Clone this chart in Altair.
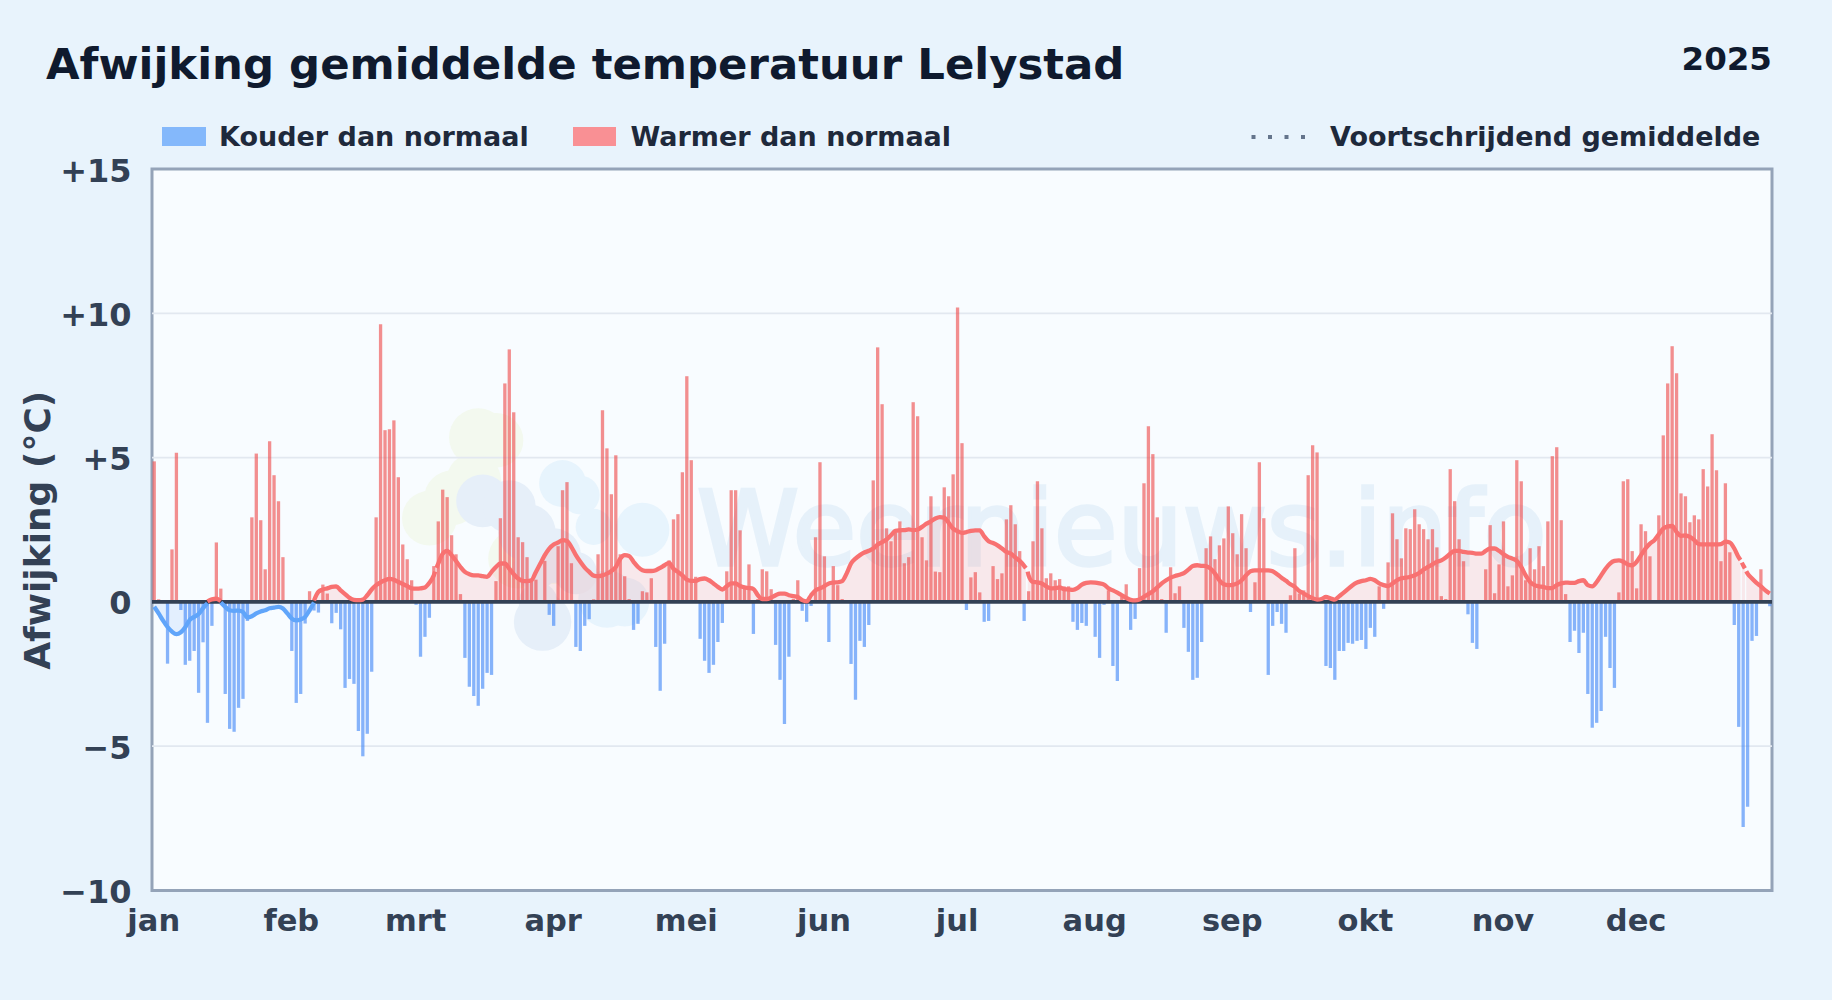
import altair as alt
import pandas as pd
from altair.utils.html import HTML_TEMPLATE

FONT = "DejaVu Sans"
PAGE_BG = "#e8f3fc"
PLOT_BG = "#f8fcff"
INK = "#0f1a2e"
SLATE = "#334155"
TEXT = "#1e293b"
RED = "#f87171"
BLUE = "#60a5fa"
BAR_RED = "#ef4444"
BAR_BLUE = "#3b82f6"

title = "Afwijking gemiddelde temperatuur Lelystad"
year = "2025"
y_title = "Afwijking (°C)"
month_days = [0, 31, 59, 90, 120, 151, 181, 212, 243, 273, 304, 334]
month_labels = ["jan", "feb", "mrt", "apr", "mei", "jun", "jul", "aug", "sep", "okt", "nov", "dec"]
y_ticks = [-10, -5, 0, 5, 10, 15]
grid_values = [-5, 5, 10]

# daily anomaly (one value per day of the year)
anomaly = [
    4.87, 0.09, 0, -2.14, 1.82, 5.17, -0.28, -2.18, -2.04, -1.70,
    -3.15, -1.4, -4.19, -0.83, 2.06, 0.46, -3.19, -4.4, -4.5, -3.67,
    -3.36, -0.66, 2.93, 5.14, 2.83, 1.13, 5.57, 4.39, 3.49, 1.55,
    0, -1.70, -3.5, -3.19, -0.75, 0.37, -0.3, -0.37, 0.6, 0.29,
    -0.74, -0.38, -0.95, -2.98, -2.67, -2.84, -4.47, -5.35, -4.57, -2.42,
    2.93, 9.62, 5.95, 5.98, 6.29, 4.32, 1.99, 1.48, 0.75, -0.1,
    -1.9, -1.21, -0.55, 1.24, 2.79, 3.89, 3.63, 2.31, 1.65, 0.27,
    -1.94, -2.94, -3.26, -3.6, -3.01, -2.46, -2.53, 0.72, 2.9, 7.57,
    8.75, 6.57, 2.24, 2.07, 1.55, 0.78, 0.77, 0, 1.42, -0.45,
    -0.83, 1.93, 3.87, 4.15, 1.34, -1.56, -1.70, -0.83, -0.6, 0.09,
    1.65, 6.64, 5.32, 3.73, 5.08, 1.65, 0.89, 0.1, -0.97, -0.76,
    0.37, 0.33, 0.82, -1.56, -3.08, -1.45, 1.44, 2.86, 3.04, 4.49,
    7.82, 4.91, 0.87, -1.28, -2.04, -2.46, -2.18, -1.39, -0.73, 1.06,
    3.87, 3.87, 2.48, 0.5, 1.3, -1.11, 0.1, 1.13, 1.06, 0.44,
    -1.49, -2.7, -4.23, -1.9, 0.1, 0.75, -0.31, -0.69, -0.14, 2.24,
    4.84, 1.58, -1.39, 1.24, 0.58, 0.1, 0, -2.15, -3.39, -1.35,
    -1.56, -0.8, 4.21, 8.82, 6.85, 2.55, 2.1, 2.4, 2.79, 1.34,
    1.55, 6.92, 6.43, 2.24, 1.44, 3.66, 1.05, 1.03, 3.97, 3.66,
    4.42, 10.2, 5.5, -0.28, 0.85, 1.03, 0.33, -0.69, -0.66, 1.24,
    0.79, 0.99, 2.86, 3.35, 2.69, 1.76, -0.66, 0.37, 2.1, 4.18,
    2.55, 0.82, 0.99, 0.75, 0.79, 0.54, 0.54, -0.69, -0.97, -0.73,
    -0.83, 0, -1.21, -1.94, -0.1, 0.4, -2.22, -2.74, 0.17, 0.61,
    -0.97, -0.59, 1.17, 4.11, 6.09, 5.12, 2.93, 0.1, -1.07, 1.2,
    0.3, 0.54, -0.9, -1.73, -2.7, -2.63, -1.39, 1.86, 2.27, 1.48,
    1.96, 2.2, 3.31, 2.38, 1.65, 3.04, 1.86, -0.35, 0.68, 4.84,
    2.9, -2.53, -0.83, -0.35, -0.76, -1.07, 0.23, 1.86, 0.29, 0.4,
    4.39, 5.43, 5.18, 0, -2.22, -2.29, -2.7, -1.7, -1.7, -1.42,
    -1.45, -1.35, -1.32, -1.63, -0.9, -1.21, 0.54, -0.24, 1.37, 3.07,
    2.17, 1.51, 2.55, 2.52, 3.21, 2.69, 2.52, 2.17, 2.52, 1.89,
    0.2, 0.1, 4.6, 3.49, 2.17, 1.41, -0.43, -1.42, -1.63, 0,
    1.13, 2.66, 0.3, 1.3, 2.79, 0.54, 0.92, 4.91, 4.18, 0.75,
    1.86, 1.13, 1.93, 1.24, 2.79, 5.05, 5.36, 2.83, 0.27, -1.39,
    -1.0, -1.77, -1.07, -3.19, -4.36, -4.19, -3.78, -1.21, -2.29, -2.98,
    0.33, 4.18, 4.25, 1.76, 0.47, 2.69, 2.45, 1.58, 0, 3.0,
    5.77, 7.57, 8.86, 7.92, 3.76, 3.66, 2.76, 3.0, 2.86, 4.6,
    4.0, 5.81, 4.56, 1.41, 4.11, 1.72, -0.8, -4.33, -7.8, -7.1,
    -1.35, -1.18, 1.13, 0, -0.15,
]

# moving average; each stretch is one unbroken piece of line
ma_seg_a_days = list(range(0, 13))
ma_seg_a = [-0.17, -0.4, -0.65, -0.87, -1.03, -1.12, -1.05, -0.88, -0.62, -0.52, -0.42, -0.22, -0.05]
ma_seg_b_days = [12, 13, 14, 15]
ma_seg_b = [0.02, 0.09, 0.11, 0.03]
ma_seg_c_days = list(range(15, 37))
ma_seg_c = [-0.02, -0.17, -0.29, -0.31, -0.3, -0.35, -0.54, -0.5, -0.4, -0.33, -0.29, -0.22, -0.2, -0.17,
            -0.23, -0.4, -0.58, -0.64, -0.61, -0.52, -0.29, -0.02]
ma_seg_d_days = list(range(36, 64)) + [63.3]
ma_seg_d = [0.05, 0.35, 0.43, 0.47, 0.52, 0.54, 0.4, 0.27, 0.14, 0.07, 0.06, 0.08, 0.23, 0.43, 0.58, 0.68,
            0.75, 0.8, 0.77, 0.69, 0.62, 0.55, 0.47, 0.46, 0.47, 0.5, 0.66, 0.92, 1.05]
ma_seg_e_days = [63.6] + list(range(64, 197)) + [196.4]
ma_seg_e = [1.18, 1.33, 1.67, 1.77, 1.62, 1.42, 1.21, 1.04, 0.96, 0.92, 0.92, 0.89, 0.87, 1.04, 1.21, 1.33, 1.33,
            1.15, 0.96, 0.81, 0.73, 0.72, 0.75, 1.04, 1.33, 1.62, 1.85, 1.99,
            2.06, 2.14, 2.11, 1.9, 1.62, 1.39, 1.19, 1.04, 0.91, 0.89, 0.92, 0.98, 1.07, 1.21, 1.5, 1.62, 1.59,
            1.39, 1.21, 1.1, 1.07, 1.07, 1.1, 1.18, 1.27, 1.35, 1.15, 1.04, 0.92, 0.77, 0.73, 0.73, 0.79, 0.81,
            0.75, 0.64, 0.52, 0.43, 0.54, 0.64, 0.64, 0.55, 0.5, 0.48, 0.45, 0.23, 0.1, 0.1, 0.15, 0.23, 0.29,
            0.29, 0.23, 0.2, 0.17, 0.06, 0.02, 0.23, 0.4, 0.47, 0.55, 0.64, 0.67, 0.68, 0.72, 0.98, 1.33, 1.5,
            1.62, 1.71, 1.77, 1.85, 1.99, 2.07, 2.16, 2.31, 2.46, 2.48, 2.49, 2.51, 2.49, 2.51, 2.6, 2.71, 2.79,
            2.89, 2.94, 2.92, 2.74, 2.54, 2.45, 2.39, 2.42, 2.46, 2.48, 2.48, 2.27, 2.1, 2.04, 1.96, 1.85, 1.73,
            1.67, 1.54, 1.42, 1.25, 1.17]
ma_seg_f_days = [196.8] + list(range(197, 358)) + [357.4]
ma_seg_f = [1.05, 0.92, 0.69, 0.68, 0.64, 0.54, 0.47, 0.48, 0.5, 0.44, 0.43, 0.42, 0.48, 0.6, 0.66, 0.68, 0.67,
            0.64, 0.6, 0.47, 0.4, 0.32, 0.23, 0.14, 0.07, 0.05, 0.08, 0.18, 0.27, 0.37, 0.5, 0.64, 0.75, 0.84,
            0.9, 0.94, 1.0, 1.12, 1.24, 1.27, 1.25, 1.24, 1.15, 0.98, 0.75, 0.61, 0.58, 0.59, 0.64, 0.75, 0.92,
            1.06, 1.09, 1.09, 1.09, 1.09, 1.06, 0.96, 0.84, 0.73, 0.61, 0.52, 0.38, 0.29, 0.2, 0.13, 0.08, 0.1,
            0.17, 0.12, 0.08, 0.2, 0.32, 0.45, 0.58, 0.67, 0.72, 0.75, 0.8, 0.75, 0.64, 0.58, 0.55, 0.64, 0.75,
            0.82, 0.84, 0.87, 0.92, 1.0, 1.12, 1.21, 1.3, 1.39, 1.44, 1.54, 1.67, 1.77, 1.77, 1.73, 1.71, 1.7,
            1.67, 1.67, 1.77, 1.85, 1.85, 1.77, 1.65, 1.56, 1.5, 1.42, 1.21, 0.92, 0.69, 0.58, 0.54, 0.52, 0.48,
            0.48, 0.58, 0.64, 0.67, 0.66, 0.66, 0.72, 0.75, 0.58, 0.54, 0.69, 0.92, 1.15, 1.33, 1.42, 1.44, 1.39,
            1.3, 1.27, 1.39, 1.62, 1.85, 2.02, 2.14, 2.34, 2.54, 2.62, 2.63, 2.42, 2.29, 2.3, 2.25, 2.14, 2.0,
            1.99, 1.99, 1.99, 1.99, 2.0, 2.09, 2.06, 1.85, 1.54, 1.45]
ma_seg_g_days = [357.7, 358, 358.4]
ma_seg_g = [1.36, 1.27, 1.16]
ma_seg_h_days = [358.7] + list(range(359, 365))
ma_seg_h = [1.06, 0.98, 0.81, 0.66, 0.54, 0.4, 0.29]

segments = [
    ("A", "koud", ma_seg_a_days, ma_seg_a),
    ("B", "warm", ma_seg_b_days, ma_seg_b),
    ("C", "koud", ma_seg_c_days, ma_seg_c),
    ("D", "warm", ma_seg_d_days, ma_seg_d),
    ("E", "warm", ma_seg_e_days, ma_seg_e),
    ("F", "warm", ma_seg_f_days, ma_seg_f),
    ("G", "warm", ma_seg_g_days, ma_seg_g),
    ("H", "warm", ma_seg_h_days, ma_seg_h),
]

# faint watermark logo: day, anomaly, symbol area
logo_green_day = [73, 77, 62, 67, 72, 82, 90]
logo_green_val = [5.7, 5.6, 2.9, 3.6, 4.2, 1.5, 1.5]
logo_green_size = [3400, 3000, 3000, 3000, 3000, 3600, 2600]
logo_light_day = [92, 96, 110, 102, 106, 99]
logo_light_val = [4.1, 3.7, 2.5, 0.1, 0.0, 2.6]
logo_light_size = [2200, 1500, 2900, 3300, 2400, 1300]
logo_dark_day = [74, 80, 84, 90, 86, 95, 86.5, 87.5]
logo_dark_val = [3.5, 3.3, 2.4, 1.6, 1.2, 1.0, 0.0, -0.7]
logo_dark_size = [2800, 2800, 3300, 3000, 2000, 1800, 1500, 3300]

bars = pd.DataFrame({"dag": list(range(len(anomaly))), "waarde": anomaly})
bars["soort"] = ["warm" if v >= 0 else "koud" for v in anomaly]
ma_rows = []
for seg, kind, days, vals in segments:
    for d, v in zip(days, vals):
        ma_rows.append({"dag": d, "waarde": v, "seg": seg, "soort": kind})
ma_df = pd.DataFrame(ma_rows)

x_scale = alt.Scale(domain=[-0.5, 364.5], nice=False, zero=False, padding=0)
y_scale = alt.Scale(domain=[-10, 15], nice=False, padding=0)
line_colors = alt.Scale(domain=["koud", "warm"], range=[BLUE, RED])
bar_colors = alt.Scale(domain=["koud", "warm"], range=[BAR_BLUE, BAR_RED])

label_expr = "[" + ",".join(f"'{m}'" for m in month_labels) + "][indexof([" + ",".join(map(str, month_days)) + "],datum.value)]"

x_axis = alt.Axis(
    values=month_days, labelExpr=label_expr, title=None, grid=False, domain=False, ticks=False,
    labelFont=FONT, labelFontSize=30.5, labelFontWeight="bold", labelColor=SLATE, labelPadding=16, labelOffset=-1,
    labelOverlap=False, labelFlush=False)
y_axis = alt.Axis(
    values=y_ticks, title=y_title, grid=False, domain=False, ticks=False,
    labelFont=FONT, labelFontSize=32, labelFontWeight="bold", labelColor=SLATE, labelPadding=21, labelOffset=2,
    labelExpr="datum.value > 0 ? '+' + datum.value : datum.value < 0 ? '\u2212' + abs(datum.value) : '0'",
    titleFont=FONT, titleFontSize=36, titleFontWeight="bold", titleColor=SLATE, titlePadding=2)
x_enc = alt.X("dag:Q", scale=x_scale, axis=x_axis)
y_enc = alt.Y("waarde:Q", scale=y_scale, axis=y_axis)


def logo(days, vals, sizes, colour):
    frame = pd.DataFrame({"dag": days, "waarde": vals, "s": sizes})
    return alt.Chart(frame).mark_point(filled=True, shape="circle", opacity=1, fill=colour, strokeWidth=0).encode(
        x=x_enc, y=y_enc, size=alt.Size("s:Q", scale=None, legend=None))


watermark = alt.Chart(pd.DataFrame({"dag": [218], "waarde": [2.36], "t": ["Weernieuws.info"]})).mark_text(
    font=FONT, fontSize=103, fontWeight="normal", color="#e6f1fa", stroke="#e6f1fa", strokeWidth=3.5,
    align="center", baseline="middle"
).encode(x=x_enc, y=y_enc, text="t:N")

grid = alt.Chart(pd.DataFrame({"waarde": grid_values})).mark_rule(color="#e2e8f0", strokeWidth=1.8).encode(y=y_enc)

area = alt.Chart(ma_df).mark_area(opacity=0.14, interpolate="monotone").encode(
    x=x_enc, y=y_enc, y2=alt.Y2(datum=0), detail="seg:N",
    color=alt.Color("soort:N", scale=line_colors, legend=None))

bar_layer = alt.Chart(bars).mark_bar(size=3.3, orient="vertical", opacity=0.6).encode(
    x=x_enc, y=y_enc, y2=alt.Y2(datum=0),
    color=alt.Color("soort:N", scale=bar_colors, legend=None))

zero = alt.Chart(pd.DataFrame({"waarde": [0]})).mark_rule(color=SLATE, strokeWidth=3.8).encode(y=y_enc)

line = alt.Chart(ma_df).mark_line(strokeWidth=4.3, interpolate="monotone", strokeCap="butt").encode(
    x=x_enc, y=y_enc, detail="seg:N",
    color=alt.Color("soort:N", scale=line_colors, legend=None))


def swatch(x0, x1, colour):
    return alt.Chart(pd.DataFrame({"a": [0]})).mark_rect(color=colour).encode(
        x=alt.value(x0), x2=alt.value(x1), y=alt.value(-42), y2=alt.value(-23))


def label(text, x, y, size, colour, align="left", baseline="middle"):
    return alt.Chart(pd.DataFrame({"t": [text]})).mark_text(
        font=FONT, fontSize=size, fontWeight="bold", color=colour, align=align, baseline=baseline
    ).encode(x=alt.value(x), y=alt.value(y), text="t:N")


legend_rule = alt.Chart(pd.DataFrame({"a": [0]})).mark_rule(
    color="#64748b", strokeWidth=4, strokeDash=[4, 12.5]
).encode(x=alt.value(1099.5), x2=alt.value(1155), y=alt.value(-32))

chart = alt.layer(
    logo(logo_green_day, logo_green_val, logo_green_size, "#f3f9ef"),
    logo(logo_light_day, logo_light_val, logo_light_size, "#e7f4fd"),
    logo(logo_dark_day, logo_dark_val, logo_dark_size, "#e6eff9"),
    watermark,
    grid,
    area,
    bar_layer,
    zero,
    line,
    swatch(10, 54, "#84b8fb"),
    label("Kouder dan normaal", 67, -31, 27, TEXT),
    swatch(421, 464, "#f99094"),
    label("Warmer dan normaal", 478.5, -31, 27, TEXT),
    legend_rule,
    label("Voortschrijdend gemiddelde", 1178, -31, 27, TEXT),
    label(title, -106, -90, 43.4, INK, baseline="alphabetic"),
    label(year, 1620, -109, 32.5, INK, align="right"),
).resolve_scale(color="independent").properties(
    width=1620,
    height=721.5,
    background=PAGE_BG,
    padding={"left": 144, "top": 161, "right": 40, "bottom": 90},
    autosize=alt.AutoSizeParams(type="none"),
).configure_view(fill=PLOT_BG, stroke="#94a3b8", strokeWidth=3)


class Page:
    """The standard page, with the page margin in the chart's own background colour."""

    def render(self, **kwargs):
        style = "<head><style>html,body{background:" + PAGE_BG + ";}</style>"
        return HTML_TEMPLATE.render(**kwargs).replace("<head>", style, 1)


chart.save("out.html", embed_options={"renderer": "svg", "actions": False}, template=Page())
